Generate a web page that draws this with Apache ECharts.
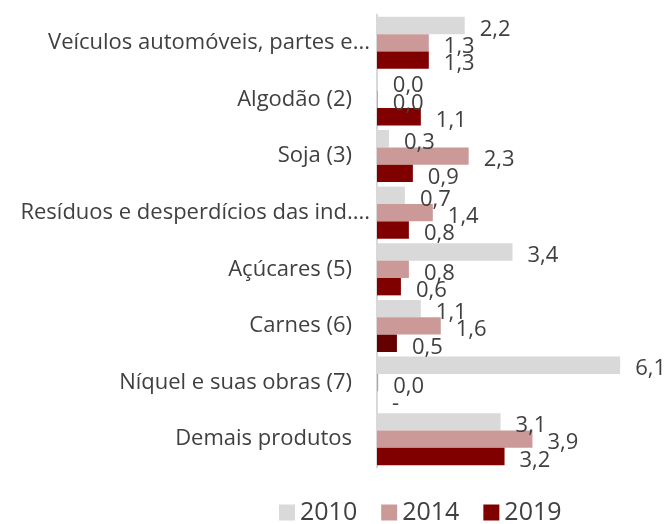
<!DOCTYPE html>
<html><head><meta charset="utf-8">
<script src="https://cdn.jsdelivr.net/npm/echarts@6/dist/echarts.min.js"></script>
<style>html,body{margin:0;padding:0;background:#fff}#c{width:667px;height:524px}</style>
</head><body><div id="c"></div>
<script>
const categories = ['Veículos automóveis, partes e...', 'Algodão (2)', 'Soja (3)', 'Resíduos e desperdícios das ind....', 'Açúcares (5)', 'Carnes (6)', 'Níquel e suas obras (7)', 'Demais produtos'];
const seriesNames = ['2010', '2014', '2019'];
const values2010 = [2.2, 0.02, 0.3, 0.7, 3.4, 1.1, 6.1, 3.1];
const values2014 = [1.3, 0.02, 2.3, 1.4, 0.8, 1.6, 0.03, 3.9];
const values2019 = [1.3, 1.1, 0.9, 0.8, 0.6, 0.5, 0, 3.2];
const colors = ['#d9d9d9', '#cc9999', '#800000'];
const FONT = 'Open Sans';

const truncated = c => c.endsWith('...') || c.endsWith('....');
const catData = categories.map(c => truncated(c) ? {value: c, textStyle: {padding: [0, -18, 0, 0]}} : c);

const fmt = p => p.value === 0 ? '-' : p.value.toFixed(1).replace('.', ',');
function mk(name, vals, color) {
  return {
    name: name, type: 'bar',
    data: vals.map((v, i) => (name === '2019' && categories[i] === 'Carnes (6)') ? {value: v, itemStyle: {color: '#640000'}} : v),
    itemStyle: {color: color},
    barGap: '0%', barCategoryGap: '8%',
    label: {show: true, position: 'right', distance: 15, offset: [0, 4], formatter: fmt,
      fontFamily: FONT, fontSize: 22, color: '#404040'}
  };
}
const chart = echarts.init(document.getElementById('c'));
chart.setOption({
  animation: false,
  color: colors,
  grid: {left: 377, right: 11, top: 14.5, bottom: 56.5, containLabel: false},
  xAxis: {type: 'value', min: 0, max: 7, show: false},
  yAxis: {type: 'category', data: catData, inverse: true,
    axisLine: {show: true, lineStyle: {color: '#d9d9d9', width: 2}},
    axisTick: {show: false},
    axisLabel: {margin: 25, fontFamily: FONT, fontSize: 22, color: '#404040'}},
  legend: {data: seriesNames, top: 495, left: 274, icon: 'rect', itemWidth: 16, itemHeight: 16, itemGap: 24,
    textStyle: {fontFamily: FONT, fontSize: 25, color: '#404040'}},
  series: [mk('2010', values2010, colors[0]), mk('2014', values2014, colors[1]), mk('2019', values2019, colors[2])]
});
</script></body></html>
